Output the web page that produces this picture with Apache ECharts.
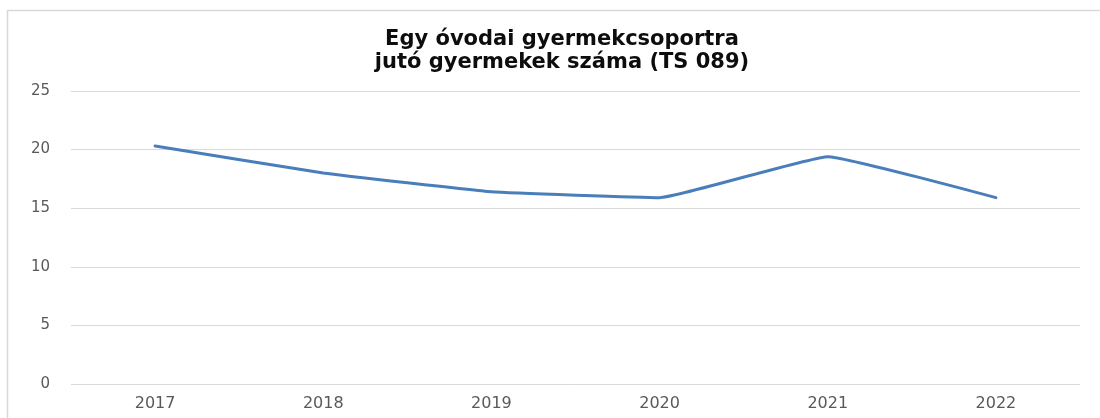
<!DOCTYPE html>
<html>
<head>
<meta charset="utf-8">
<script src="https://cdn.jsdelivr.net/npm/echarts@6/dist/echarts.min.js"></script>
<style>
  html, body { margin: 0; padding: 0; background: #fff; }
  #chart { width: 1100px; height: 418px; }
</style>
</head>
<body>
<div id="chart"></div>
<script>
// data
const years = ['2017', '2018', '2019', '2020', '2021', '2022']
const childrenPerGroup = [20.3, 18.0, 16.4, 15.9, 19.4, 15.9]
const titleLines = ['Egy óvodai gyermekcsoportra', 'jutó gyermekek száma (TS 089)']

const chart = echarts.init(document.getElementById('chart'), null, { renderer: 'canvas' })

chart.setOption({
  backgroundColor: '#ffffff',
  animation: false,
  // light frame round the chart area, like the Excel chart border
  graphic: [{
    type: 'rect',
    shape: { x: 7.5, y: 10.5, width: 1200, height: 600 },
    style: { fill: 'none', stroke: '#d9d9d9', lineWidth: 1.5 },
    silent: true
  }],
  title: {
    text: titleLines.join('\n'),
    left: 557,
    textAlign: 'center',
    top: 23,
    textStyle: {
      fontFamily: 'DejaVu Sans',
      fontSize: 21,
      fontWeight: 'bold',
      lineHeight: 23,
      color: '#0d0d0d'
    }
  },
  grid: {
    left: 71,
    right: 20,
    top: 91,
    bottom: 34
  },
  xAxis: {
    type: 'category',
    data: years,
    boundaryGap: true,
    axisLine: { show: false },
    axisTick: { show: false },
    axisLabel: {
      margin: 12,
      fontFamily: 'DejaVu Sans',
      fontSize: 16,
      color: '#595959'
    }
  },
  yAxis: {
    type: 'value',
    min: 0,
    max: 25,
    interval: 5,
    axisLine: { show: false },
    axisTick: { show: false },
    axisLabel: {
      margin: 21,
      fontFamily: 'DejaVu Sans',
      fontSize: 15,
      color: '#595959'
    },
    splitLine: {
      lineStyle: { color: '#d9d9d9', width: 1 }
    }
  },
  series: [{
    name: 'TS 089',
    type: 'line',
    data: childrenPerGroup,
    smooth: 0.1,
    symbol: 'none',
    lineStyle: { color: '#4a7ebb', width: 3, cap: 'round' }
  }]
})
</script>
</body>
</html>
